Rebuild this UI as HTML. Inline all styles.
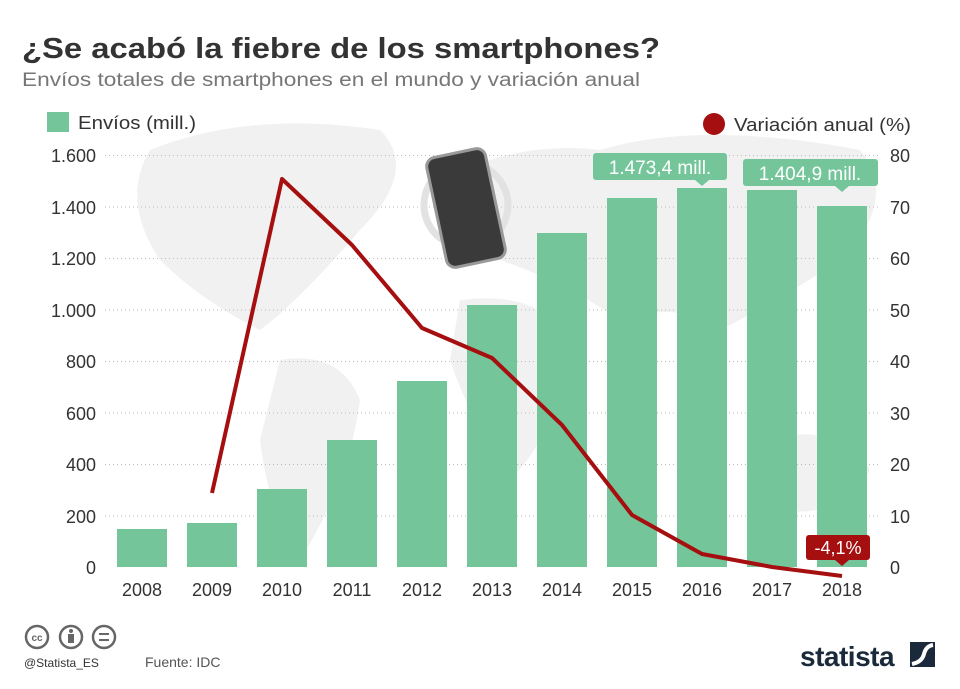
<!DOCTYPE html>
<html><head><meta charset="utf-8"><style>
body{margin:0;width:960px;height:684px;background:#fff;overflow:hidden;font-family:"Liberation Sans",sans-serif;}
</style></head><body>
<svg width="960" height="684" viewBox="0 0 960 684" xmlns="http://www.w3.org/2000/svg" font-family="Liberation Sans, sans-serif">
<rect width="960" height="684" fill="#fff"/>
<g fill="#f1f1f1">
<path d="M150 150 Q250 110 380 130 Q420 170 360 230 Q300 300 260 330 Q200 300 160 260 Q120 200 150 150Z"/>
<path d="M280 360 Q340 350 360 400 Q350 480 300 560 Q270 520 260 440Z"/>
<path d="M440 180 Q520 140 600 150 Q700 120 860 150 Q900 200 840 260 Q780 300 720 330 Q680 300 620 320 Q560 280 500 260 Q440 240 440 180Z"/>
<path d="M460 300 Q540 290 570 340 Q560 430 510 480 Q470 420 450 360Z"/>
<path d="M760 440 Q840 420 870 470 Q840 520 780 510Z"/>
</g>
<text x="22" y="58" font-size="29" font-weight="bold" fill="#333" textLength="638" lengthAdjust="spacingAndGlyphs">¿Se acabó la fiebre de los smartphones?</text>
<text x="22" y="86" font-size="19" fill="#777" textLength="618" lengthAdjust="spacingAndGlyphs">Envíos totales de smartphones en el mundo y variación anual</text>
<rect x="47" y="112" width="22" height="20" fill="#74c69a"/>
<text x="78" y="129" font-size="18" fill="#333" textLength="118" lengthAdjust="spacingAndGlyphs">Envíos (mill.)</text>
<circle cx="714" cy="124" r="11" fill="#a50f0f"/>
<text x="734" y="131" font-size="18" fill="#333" textLength="177" lengthAdjust="spacingAndGlyphs">Variación anual (%)</text>
<g stroke="#bbb" stroke-dasharray="1,3" stroke-width="1">
<line x1="105" x2="880" y1="155.5" y2="155.5"/><line x1="105" x2="880" y1="207" y2="207"/>
<line x1="105" x2="880" y1="258.5" y2="258.5"/><line x1="105" x2="880" y1="310" y2="310"/>
<line x1="105" x2="880" y1="361.5" y2="361.5"/><line x1="105" x2="880" y1="413" y2="413"/>
<line x1="105" x2="880" y1="464.5" y2="464.5"/><line x1="105" x2="880" y1="516" y2="516"/>
</g>
<g font-size="18" fill="#333" text-anchor="end">
<text x="96" y="162">1.600</text><text x="96" y="214">1.400</text><text x="96" y="265">1.200</text>
<text x="96" y="317">1.000</text><text x="96" y="368">800</text><text x="96" y="420">600</text>
<text x="96" y="471">400</text><text x="96" y="523">200</text><text x="96" y="574">0</text>
</g>
<g font-size="18" fill="#333">
<text x="890" y="162">80</text><text x="890" y="214">70</text><text x="890" y="265">60</text>
<text x="890" y="317">50</text><text x="890" y="368">40</text><text x="890" y="420">30</text>
<text x="890" y="471">20</text><text x="890" y="523">10</text><text x="890" y="574">0</text>
</g>
<g>
<circle cx="466" cy="205" r="42" fill="none" stroke="#e2e2e2" stroke-width="7"/>
<rect x="436" y="152" width="60" height="112" rx="9" transform="rotate(-12 466 208)" fill="#3a3a3a" stroke="#999" stroke-width="3"/>
</g>
<g fill="#74c69a">
<rect x="117" y="529" width="50" height="38"/><rect x="187" y="523" width="50" height="44"/>
<rect x="257" y="489" width="50" height="78"/><rect x="327" y="440" width="50" height="127"/>
<rect x="397" y="381" width="50" height="186"/><rect x="467" y="305" width="50" height="262"/>
<rect x="537" y="233" width="50" height="334"/><rect x="607" y="198" width="50" height="369"/>
<rect x="677" y="188" width="50" height="379"/><rect x="747" y="190" width="50" height="377"/>
<rect x="817" y="206" width="50" height="361"/>
</g>
<polyline fill="none" stroke="#a50f0f" stroke-width="4" stroke-linejoin="round" points="212,493 282,179 352,245 422,328 492,358 562,425 632,515 702,554 772,567 842,576"/>
<g font-size="18" fill="#333" text-anchor="middle">
<text x="142" y="596">2008</text><text x="212" y="596">2009</text><text x="282" y="596">2010</text>
<text x="352" y="596">2011</text><text x="422" y="596">2012</text><text x="492" y="596">2013</text>
<text x="562" y="596">2014</text><text x="632" y="596">2015</text><text x="702" y="596">2016</text>
<text x="772" y="596">2017</text><text x="842" y="596">2018</text>
</g>
<rect x="593" y="153" width="134" height="27" rx="3" fill="#74c69a"/><path d="M695 180 L702 186 L709 180Z" fill="#74c69a"/>
<text x="660" y="174" font-size="19" fill="#fff" text-anchor="middle">1.473,4 mill.</text>
<rect x="743" y="159" width="135" height="27" rx="3" fill="#74c69a"/><path d="M835 186 L842 192 L849 186Z" fill="#74c69a"/>
<text x="810" y="180" font-size="19" fill="#fff" text-anchor="middle">1.404,9 mill.</text>
<rect x="806" y="535" width="64" height="25" rx="3" fill="#a50f0f"/><path d="M835 560 L842 566 L849 560Z" fill="#a50f0f"/>
<text x="838" y="554" font-size="18" fill="#fff" text-anchor="middle">-4,1%</text>
<g fill="none" stroke="#666" stroke-width="2.5">
<circle cx="37" cy="637" r="11"/><circle cx="71" cy="637" r="11"/><circle cx="104" cy="637" r="11"/>
</g>
<text x="37" y="641" font-size="10" font-weight="bold" fill="#666" text-anchor="middle">cc</text>
<circle cx="71" cy="631" r="2" fill="#666"/><rect x="68" y="634" width="6" height="9" fill="#666"/>
<rect x="99" y="633" width="10" height="2" fill="#666"/><rect x="99" y="639" width="10" height="2" fill="#666"/>
<text x="24" y="667" font-size="12" fill="#333">@Statista_ES</text>
<text x="145" y="667" font-size="14" fill="#555">Fuente: IDC</text>
<text x="800" y="666" font-size="28" font-weight="bold" fill="#1a2a3a" letter-spacing="-0.5">statista</text>
<rect x="910" y="642" width="25" height="25" fill="#1a2a3a"/>
<path d="M912 664 Q922 662 924 654 Q926 646 933 645" stroke="#fff" stroke-width="4" fill="none"/>
</svg>
</body></html>
